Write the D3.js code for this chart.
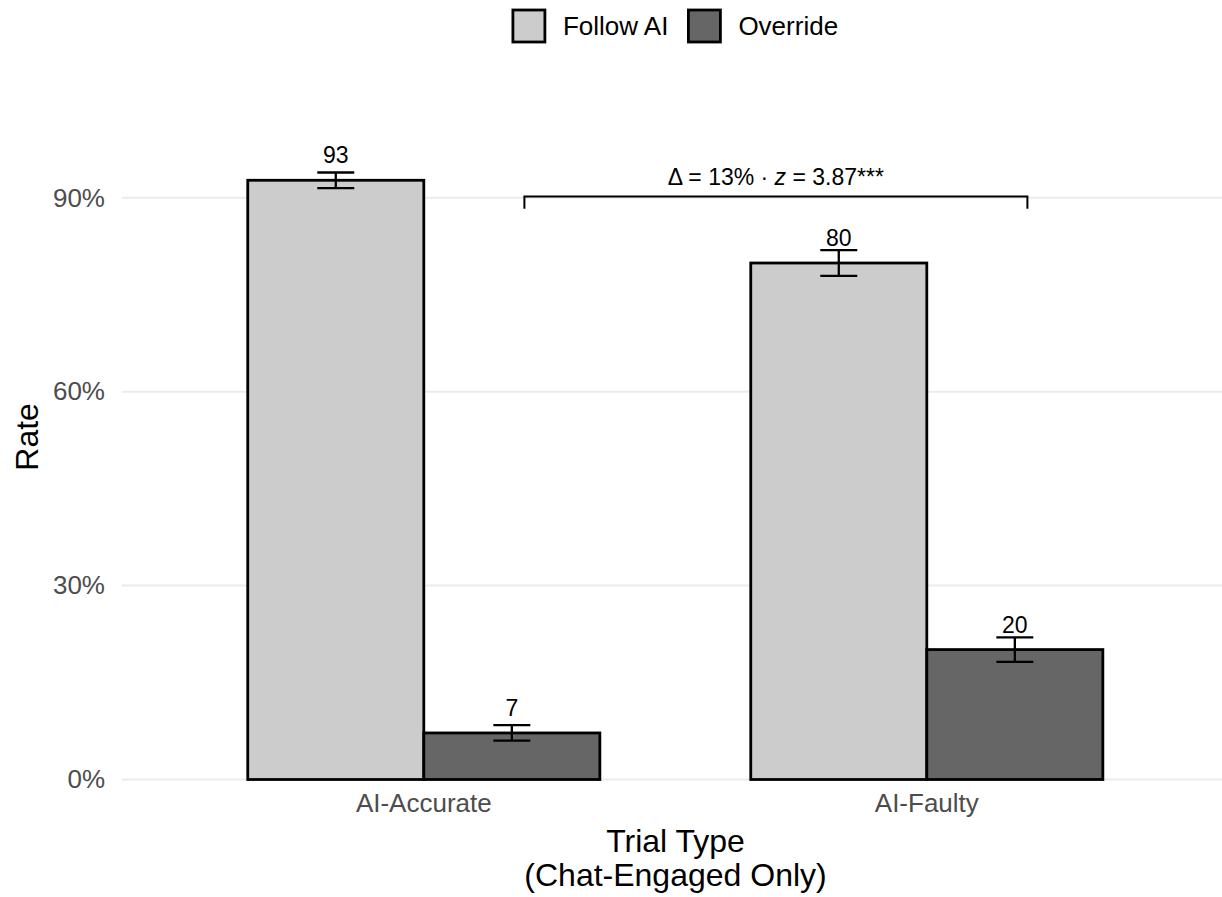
<!DOCTYPE html>
<html>
<head>
<meta charset="utf-8">
<script src="https://cdn.jsdelivr.net/npm/d3@7"></script>
<style>
  html, body { margin: 0; padding: 0; background: #ffffff; }
  svg { display: block; font-family: "Liberation Sans", Arial, Helvetica, sans-serif; }
</style>
</head>
<body>
<svg id="chart" width="1222" height="897"></svg>
<script>
// ---- Data ----
const categories = ["AI-Accurate", "AI-Faulty"];
const seriesNames = ["Follow AI", "Override"];
const followAI = [92.7, 79.9];
const override = [7.2, 20.1];
const followSE = [1.2, 2.0];
const overrideSE = [1.2, 1.9];
const followLabels = ["93", "80"];
const overrideLabels = ["7", "20"];
const yTicks = [0, 30, 60, 90];
const bracketText = ["Δ = 13% · ", "z", " = 3.87***"];
const bracketY = 90.2;
const bracketDrop = 1.9;

const colors = ["#cccccc", "#666666"];

const rows = [];
categories.forEach((c, i) => {
  rows.push({cat: c, series: seriesNames[0], value: followAI[i], se: followSE[i], label: followLabels[i]});
  rows.push({cat: c, series: seriesNames[1], value: override[i], se: overrideSE[i], label: overrideLabels[i]});
});

const svg = d3.select("#chart");
const W = 1222, H = 897;
svg.append("rect").attr("width", W).attr("height", H).attr("fill", "#ffffff");

const panel = {left: 122, right: 1228.6, top: 94.3, bottom: 779.5};

const x = d3.scaleBand().domain(categories).range([panel.left, panel.right])
  .paddingInner(0.3).paddingOuter(0.25);
const xs = d3.scaleBand().domain(seriesNames).range([0, x.bandwidth()]).padding(0);
const y = d3.scaleLinear().domain([0, 106]).range([panel.bottom, panel.top]);
const color = d3.scaleOrdinal().domain(seriesNames).range(colors);

// gridlines
svg.append("g").selectAll("line").data(yTicks).join("line")
  .attr("x1", panel.left).attr("x2", W)
  .attr("y1", d => y(d)).attr("y2", d => y(d))
  .attr("stroke", "#ebebeb").attr("stroke-width", 2);

// y axis labels
const yAxis = d3.axisLeft(y).tickValues(yTicks).tickFormat(d => d + "%").tickSize(0).tickPadding(17);
const gy = svg.append("g").attr("transform", `translate(${panel.left},0)`).call(yAxis);
gy.select(".domain").remove();
gy.selectAll("text").attr("font-size", 26).attr("fill", "#4d4d4d")
  .attr("font-family", '"Liberation Sans", Arial, sans-serif');

// x axis labels
const xAxis = d3.axisBottom(x).tickSize(0).tickPadding(14);
const gx = svg.append("g").attr("transform", `translate(0,${panel.bottom})`).call(xAxis);
gx.select(".domain").remove();
gx.selectAll("text").attr("font-size", 26).attr("fill", "#4d4d4d")
  .attr("font-family", '"Liberation Sans", Arial, sans-serif');

// bars
const bx = d => x(d.cat) + xs(d.series);
svg.append("g").selectAll("rect").data(rows).join("rect")
  .attr("x", d => bx(d)).attr("width", xs.bandwidth())
  .attr("y", d => y(d.value)).attr("height", d => y(0) - y(d.value))
  .attr("fill", d => color(d.series)).attr("stroke", "#000").attr("stroke-width", 2.8);

// error bars
const capW = xs.bandwidth() * 0.21;
const eb = svg.append("g").attr("stroke", "#000").attr("stroke-width", 2.3).attr("fill", "none");
rows.forEach(d => {
  const cx = bx(d) + xs.bandwidth() / 2;
  const y1 = y(d.value + d.se), y2 = y(d.value - d.se);
  eb.append("line").attr("x1", cx).attr("x2", cx).attr("y1", y1).attr("y2", y2);
  eb.append("line").attr("x1", cx - capW / 2).attr("x2", cx + capW / 2).attr("y1", y1).attr("y2", y1);
  eb.append("line").attr("x1", cx - capW / 2).attr("x2", cx + capW / 2).attr("y1", y2).attr("y2", y2);
});

// value labels
svg.append("g").selectAll("text").data(rows).join("text")
  .attr("x", d => bx(d) + xs.bandwidth() / 2)
  .attr("y", d => y(d.value) - 17)
  .attr("text-anchor", "middle").attr("font-size", 23).attr("fill", "#000")
  .text(d => d.label);

// bracket
const step = x.step();
const xc = c => x(c) + x.bandwidth() / 2;
const bxl = xc(categories[0]) + 0.2 * step;
const bxr = xc(categories[1]) + 0.2 * step;
svg.append("path")
  .attr("d", `M${bxl},${y(bracketY - bracketDrop)}V${y(bracketY)}H${bxr}V${y(bracketY - bracketDrop)}`)
  .attr("fill", "none").attr("stroke", "#000").attr("stroke-width", 2);
const bt = svg.append("text").attr("x", (bxl + bxr) / 2).attr("y", y(bracketY) - 11.5)
  .attr("text-anchor", "middle").attr("font-size", 23).attr("fill", "#000");
bt.append("tspan").text(bracketText[0]);
bt.append("tspan").attr("font-style", "italic").text(bracketText[1]);
bt.append("tspan").text(bracketText[2]);

// axis titles
const xt = svg.append("text").attr("text-anchor", "middle").attr("font-size", 32).attr("fill", "#000");
xt.append("tspan").attr("x", 675.5).attr("y", 852).text("Trial Type");
xt.append("tspan").attr("x", 675.5).attr("y", 886).text("(Chat-Engaged Only)");

svg.append("text").attr("transform", `translate(38,${(panel.top + panel.bottom) / 2}) rotate(-90)`)
  .attr("text-anchor", "middle").attr("font-size", 32).attr("fill", "#000").text("Rate");

// legend
const lg = svg.append("g");
const key = 32, gapText = 18, gapItem = 20;
const items = [];
seriesNames.forEach((s, i) => {
  const g = lg.append("g");
  g.append("rect").attr("x", 0).attr("y", -key / 2).attr("width", key).attr("height", key)
    .attr("fill", colors[i]).attr("stroke", "#000").attr("stroke-width", 2.8);
  const t = g.append("text").attr("x", key + gapText).attr("y", 0).attr("dy", "0.35em")
    .attr("font-size", 26).attr("fill", "#000").text(s);
  const w = key + gapText + t.node().getComputedTextLength();
  items.push({g, w});
});
const totalW = d3.sum(items, d => d.w) + gapItem * (items.length - 1);
let lx = 675.5 - totalW / 2;
items.forEach(it => {
  it.g.attr("transform", `translate(${lx},26)`);
  lx += it.w + gapItem;
});
</script>
</body>
</html>
